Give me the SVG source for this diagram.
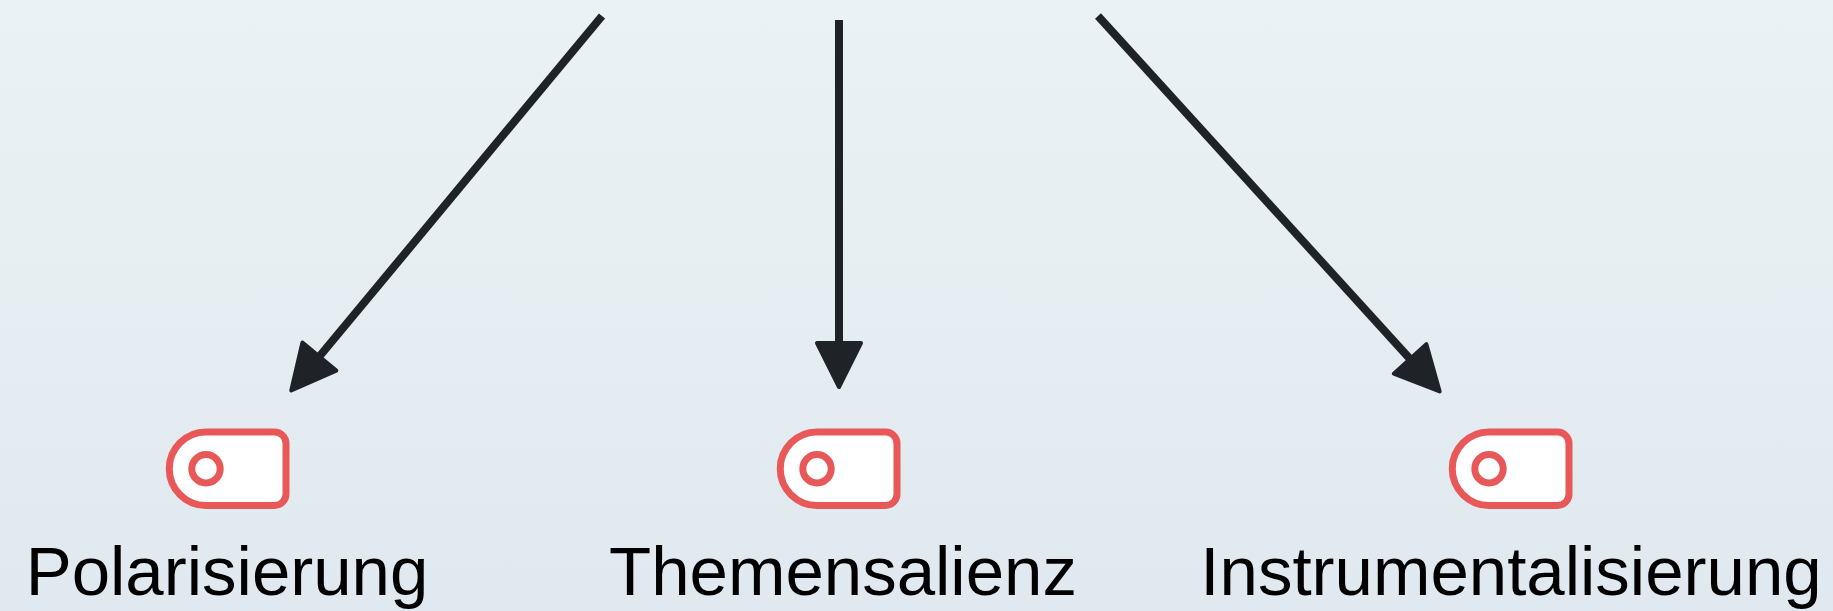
<svg xmlns="http://www.w3.org/2000/svg" width="1833" height="611" viewBox="0 0 1833 611">
  <defs>
    <linearGradient id="bg" x1="0" y1="0" x2="0" y2="1">
      <stop offset="0" stop-color="#ebf2f5"/>
      <stop offset="1" stop-color="#e0e9ef"/>
    </linearGradient>
    <marker id="arrow" markerUnits="userSpaceOnUse" markerWidth="52" markerHeight="52" refX="1" refY="24" orient="auto" overflow="visible">
      <path d="M2,2 L46,24 L2,46 Z" fill="#1f2226" stroke="#1f2226" stroke-width="4" stroke-linejoin="round"/>
    </marker>
    <path id="tag" d="M 0,0 H 68.5 A 11.5 11.5 0 0 1 80 11.5 V 62 A 11.5 11.5 0 0 1 68.5 73.5 H 0 A 36.75 36.75 0 0 1 0 0 Z"/>
  </defs>
  <style>
    .edge { stroke: #1f2226; stroke-width: 8; fill: none; stroke-linecap: butt; marker-end: url(#arrow); }
    .tag { fill: #ffffff; stroke: #e85858; stroke-width: 7; }
    .dot { fill: none; stroke: #e85858; stroke-width: 7; }
    .label { font-family: "Liberation Sans", Arial, sans-serif; font-size: 69px; fill: #000000; text-anchor: middle; }
  </style>
  <rect x="0" y="0" width="1833" height="611" fill="url(#bg)"/>
  <g id="connectors">
    <line class="edge" x1="602" y1="16" x2="320" y2="355.8"/>
    <line class="edge" x1="839" y1="20" x2="839" y2="342"/>
    <line class="edge" x1="1098" y1="16" x2="1409.4" y2="358.2"/>
  </g>
  <g id="node-polarisierung">
    <use href="#tag" class="tag" x="206" y="432"/>
    <circle class="dot" cx="206" cy="468.75" r="14.2"/>
    <text class="label" x="227" y="594.5">Polarisierung</text>
  </g>
  <g id="node-themensalienz">
    <use href="#tag" class="tag" x="817" y="432"/>
    <circle class="dot" cx="817" cy="468.75" r="14.2"/>
    <text class="label" x="843" y="594.5">Themensalienz</text>
  </g>
  <g id="node-instrumentalisierung">
    <use href="#tag" class="tag" x="1489" y="432"/>
    <circle class="dot" cx="1489" cy="468.75" r="14.2"/>
    <text class="label" x="1511" y="594.5">Instrumentalisierung</text>
  </g>
</svg>
